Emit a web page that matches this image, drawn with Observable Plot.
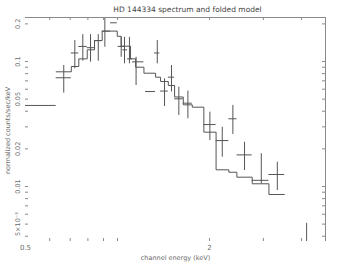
<!DOCTYPE html>
<html><head><meta charset="utf-8">
<script src="https://cdn.jsdelivr.net/npm/d3@7"></script>
<script src="https://cdn.jsdelivr.net/npm/@observablehq/plot@0.6"></script>
<style>body{margin:0;background:#fff} svg{display:block}</style>
</head><body><div id="chart"></div>
<script>
// Data points (channel energy, keV) and normalized counts/sec/keV
const dataE   = [0.565, 0.667, 0.725, 0.770, 0.816, 0.865, 0.909, 0.972, 1.028, 1.054, 1.094, 1.15, 1.28, 1.349, 1.425, 1.502, 1.587, 1.699, 2.005, 2.201, 2.384, 2.603, 2.953, 3.332, 4.155];
const dataElo = [0.500, 0.630, 0.706, 0.747, 0.796, 0.841, 0.891, 0.949, 1.005, 1.040, 1.079, 1.12, 1.235, 1.322, 1.383, 1.466, 1.537, 1.641, 1.916, 2.101, 2.313, 2.46, 2.758, 3.128, 3.97];
const dataEhi = [0.630, 0.706, 0.747, 0.796, 0.841, 0.891, 0.949, 0.998, 1.054, 1.079, 1.120, 1.22, 1.332, 1.375, 1.466, 1.537, 1.641, 1.756, 2.101, 2.313, 2.46, 2.758, 3.128, 3.52, 4.35];
const dataY   = [0.0445, 0.0741, 0.117, 0.132, 0.129, 0.147, 0.175, 0.204, 0.132, 0.124, 0.105, 0.0994, 0.0575, 0.117, 0.058, 0.0749, 0.0503, 0.0464, 0.0313, 0.0233, 0.0348, 0.0179, 0.0112, 0.01247, 0.0033];
const dataYlo = [0.0445, 0.0558, 0.0874, 0.1006, 0.0987, 0.1006, 0.130, 0.204, 0.108, 0.0958, 0.0958, 0.0643, 0.0575, 0.0958, 0.0437, 0.057, 0.037, 0.0348, 0.0233, 0.01715, 0.0261, 0.01343, 0.0105, 0.00929, 0.001];
const dataYhi = [0.0445, 0.0929, 0.147, 0.164, 0.164, 0.164, 0.221, 0.204, 0.156, 0.156, 0.156, 0.108, 0.0575, 0.147, 0.0727, 0.0929, 0.0623, 0.0579, 0.0393, 0.0298, 0.0445, 0.0226, 0.0183, 0.01564, 0.00508];

// Folded model (histogram)
const modelEdges  = [0.630, 0.706, 0.747, 0.796, 0.841, 0.891, 0.998, 1.028, 1.103, 1.146, 1.22, 1.332, 1.383, 1.466, 1.537, 1.641, 1.756, 1.916, 2.101, 2.313, 2.457, 2.758, 3.128, 3.52];
const modelValues = [0.0827, 0.0912, 0.105, 0.124, 0.147, 0.175, 0.159, 0.1326, 0.105, 0.090, 0.0806, 0.0749, 0.0692, 0.0643, 0.052, 0.045, 0.0431, 0.0272, 0.0136, 0.0130, 0.01187, 0.01051, 0.00863];

// Axes
const xDomain = [0.5, 4.79];
const yDomain = [0.00363, 0.2249];
const xTicks = [0.6, 0.7, 0.8, 0.9, 1, 2, 3, 4];
const yTicks = [0.004, 0.005, 0.006, 0.007, 0.008, 0.009, 0.01, 0.02, 0.03, 0.04, 0.05, 0.06, 0.07, 0.08, 0.09, 0.1, 0.2];
const xTickValues = [0.5, 2];
const xTickText = ["0.5", "2"];
const yTickValues = [0.2, 0.1, 0.05, 0.02, 0.01, 0.005];
const yTickText = ["0.2", "0.1", "0.05", "0.02", "0.01", "5×10⁻³"];
const titleText = "HD 144334 spectrum and folded model";
const xTitle = "channel energy (keV)";
const yTitle = "normalized counts/sec/keV";

const W = 363, H = 268, mL = 25, mR = 38, mT = 17, mB = 27;
const fw = W - mL - mR, fh = H - mT - mB;

const points = dataE.map((e, i) => ({e, elo: dataElo[i], ehi: dataEhi[i], y: dataY[i], ylo: dataYlo[i], yhi: dataYhi[i]}));
const model = modelEdges.map((x, i) => ({x, y: modelValues[Math.min(i, modelValues.length - 1)]}));
const xLab = xTickValues.map((v, i) => ({v, t: xTickText[i]}));
const yLab = yTickValues.map((v, i) => ({v, t: yTickText[i]}));

const ink = "#555", tick = "#8a8a8a", txt = "#6a6a6a";

const chart = Plot.plot({
  width: W, height: H,
  marginLeft: mL, marginRight: mR, marginTop: mT, marginBottom: mB,
  style: {fontFamily: "DejaVu Sans, sans-serif", background: "white"},
  x: {type: "log", domain: xDomain, axis: null},
  y: {type: "log", domain: yDomain, axis: null},
  marks: [
    // frame: top and right edges
    Plot.ruleY([yDomain[1]], {stroke: tick}),
    Plot.ruleX([xDomain[1]], {stroke: tick}),
    // inner ticks
    Plot.tickY(yTicks, {y: d => d, insetRight: fw - 3, stroke: tick}),
    Plot.tickY(yTicks, {y: d => d, insetLeft: fw - 3, stroke: tick}),
    Plot.tickX(xTicks, {x: d => d, insetBottom: fh - 3, stroke: tick}),
    Plot.tickX(xTicks, {x: d => d, insetTop: fh - 3, stroke: tick}),
    // model histogram
    Plot.line(model, {x: "x", y: "y", curve: "step-after", stroke: ink, strokeWidth: 1, clip: true}),
    // data crosses
    Plot.ruleX(points, {x: "e", y1: "ylo", y2: "yhi", stroke: ink, strokeWidth: 1, clip: true}),
    Plot.ruleY(points, {y: "y", x1: "elo", x2: "ehi", stroke: ink, strokeWidth: 1, clip: true}),
    // tick labels
    Plot.text(yLab, {y: "v", text: "t", frameAnchor: "left", textAnchor: "middle", lineAnchor: "middle", dx: -8, rotate: -90, fontSize: 6.5, fill: txt}),
    Plot.text(xLab, {x: "v", text: "t", frameAnchor: "bottom", textAnchor: "middle", lineAnchor: "middle", dy: 6, fontSize: 7, fill: txt}),
    // titles
    Plot.text([titleText], {text: d => d, frameAnchor: "top", textAnchor: "middle", lineAnchor: "middle", dy: -7.5, dx: 12, fontSize: 7.5, fill: "#444"}),
    Plot.text([xTitle], {text: d => d, frameAnchor: "bottom", textAnchor: "middle", lineAnchor: "middle", dy: 16, fontSize: 6.5, fill: txt}),
    Plot.text([yTitle], {text: d => d, frameAnchor: "left", textAnchor: "middle", lineAnchor: "middle", dx: -18, dy: 1, rotate: -90, fontSize: 6.5, fill: txt})
  ]
});
document.getElementById("chart").appendChild(chart);
</script>
</body></html>
